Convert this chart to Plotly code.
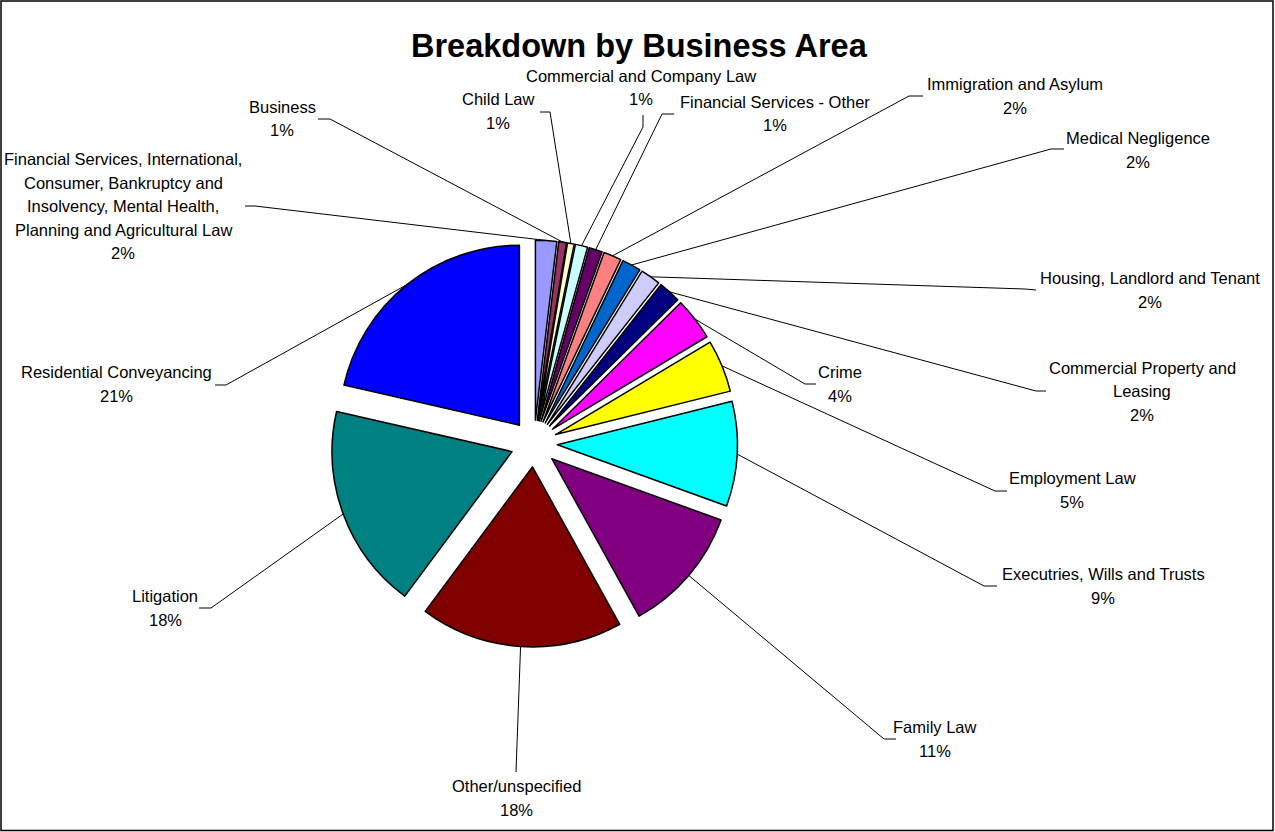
import math
import plotly.graph_objects as go

W, H = 1275, 832

# ---------------- data ----------------
categories = [
    "Financial Services, International, Consumer, Bankruptcy and Insolvency, Mental Health, Planning and Agricultural Law",
    "Business",
    "Child Law",
    "Commercial and Company Law",
    "Financial Services - Other",
    "Immigration and Asylum",
    "Medical Negligence",
    "Housing, Landlord and Tenant",
    "Commercial Property and Leasing",
    "Crime",
    "Employment Law",
    "Executries, Wills and Trusts",
    "Family Law",
    "Other/unspecified",
    "Litigation",
    "Residential Conveyancing",
]
values = [1.9, 0.7, 0.6, 1.1, 1.2, 1.6, 1.7, 1.8, 2.0, 3.8, 4.7, 9.4, 11.4, 18.2, 18.4, 21.4]
colors = ["#9999FF", "#993366", "#FFFFCC", "#CCFFFF", "#660066", "#FF8080", "#0066CC", "#CCCCFF",
          "#000080", "#FF00FF", "#FFFF00", "#00FFFF", "#800080", "#800000", "#008080", "#0000FF"]

# how label names wrap in the picture
wrapped = {
    categories[0]: ["Financial Services, International,", "Consumer, Bankruptcy and",
                    "Insolvency, Mental Health,", "Planning and Agricultural Law"],
    "Commercial Property and Leasing": ["Commercial Property and", "Leasing"],
}

# ---------------- layout (pixels) ----------------
CX, CY, R, PULL = 534, 443.5, 180, 0.13
half = R * (1 + PULL)
dom_x = [(CX - half) / W, (CX + half) / W]
dom_y = [1 - (CY + half) / H, 1 - (CY - half) / H]

label_pos = [(123, 206), (282, 118.5), (498, 111), (641, 87.5), (775, 113.5), (1015, 96),
             (1138, 150), (1150, 290), (1142, 391), (840, 384), (1072, 490), (1103, 586),
             (935, 739), (516, 798), (165, 608), (116.5, 384)]
elbows = [(255, 206), (330, 119), (550, 112), (643, 127), (662, 114), (909, 96),
          (1051, 149), (1025, 289), (1036, 391), (805, 384), (995, 491), (984, 586),
          (884, 739), (516, 772), (211, 608), (226, 385)]
ends = [(245, 206), (318, 119), (540, 112), (643, 115), (674, 114), (923, 96),
        (1064, 149), (1036, 290), (1046, 391), (816, 384), (1007, 491), (997, 586),
        (896, 739), (516, 772), (199, 608), (215, 385)]
LINE_H = 23.5
FONT = "Liberation Sans, Arial, sans-serif"

fig = go.Figure(go.Pie(
    labels=categories, values=values, sort=False, direction="clockwise", rotation=0,
    pull=[PULL] * len(values),
    marker=dict(colors=colors, line=dict(color="black", width=1.5)),
    textinfo="none", hoverinfo="label+percent",
    domain=dict(x=dom_x, y=dom_y), showlegend=False,
))


def px(x, y):
    return x / W, 1 - y / H


shapes = []
annotations = []
total = sum(values)
cum = 0.0
for i, v in enumerate(values):
    mid = (cum + v / 2) / total * 2 * math.pi
    cum += v
    sx, sy = px(CX + half * math.sin(mid), CY - half * math.cos(mid))
    exx, eyy = px(*elbows[i])
    tx, ty = px(*ends[i])
    shapes.append(dict(type="path", xref="paper", yref="paper",
                       path=f"M {sx} {sy} L {exx} {eyy} L {tx} {ty}",
                       line=dict(color="black", width=1)))
    pct = f"{round(v / total * 100)}%"
    lines = wrapped.get(categories[i], [categories[i]]) + [pct]
    n = len(lines)
    cx, cy = label_pos[i]
    for k, ln in enumerate(lines):
        yy = cy + (k - (n - 1) / 2) * LINE_H
        ax, ay = px(cx, yy)
        annotations.append(dict(x=ax, y=ay, xref="paper", yref="paper", text=ln,
                                showarrow=False, xanchor="center", yanchor="middle",
                                font=dict(family=FONT, size=16.5, color="black")))

# title
tx, ty = px(639, 46)
annotations.append(dict(x=tx, y=ty, xref="paper", yref="paper",
                        text="<b>Breakdown by Business Area</b>", showarrow=False,
                        xanchor="center", yanchor="middle",
                        font=dict(family=FONT, size=32.5, color="black")))

# chart frame
shapes.append(dict(type="rect", xref="paper", yref="paper",
                   x0=1 / W, x1=1 - 2 / W, y0=1.5 / H, y1=1 - 1 / H,
                   line=dict(color="black", width=1.5)))

fig.update_layout(
    width=W, height=H, autosize=False,
    margin=dict(l=0, r=0, t=0, b=0),
    paper_bgcolor="white", plot_bgcolor="white",
    shapes=shapes, annotations=annotations,
)

fig.write_html("out.html")
